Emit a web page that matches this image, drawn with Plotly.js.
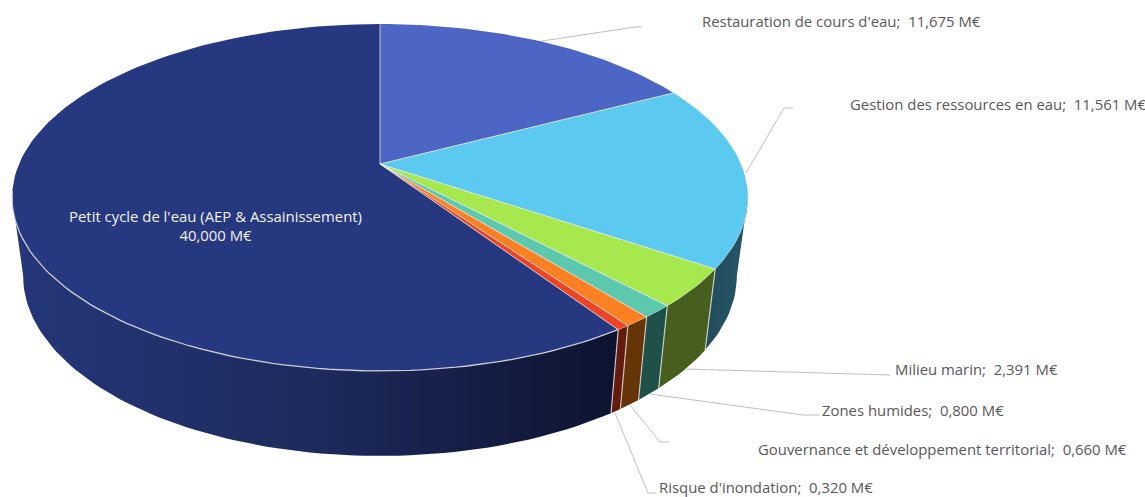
<!DOCTYPE html>
<html><head><meta charset="utf-8">
<script src="https://cdn.plot.ly/plotly-3.0.1.min.js"></script>
<style>html,body{margin:0;padding:0;background:#fff;overflow:hidden}#c{width:1145px;height:497px}</style>
</head><body><div id="c"></div>
<script>
// ---- data ----
const categories = ["Restauration de cours d'eau","Gestion des ressources en eau","Milieu marin","Zones humides","Gouvernance et développement territorial","Risque d'inondation","Petit cycle de l'eau (AEP & Assainissement)"];
const values = [11.675,11.561,2.391,0.800,0.660,0.320,40.000];
const unit = "M€";
const topColors = ["#4D65C4","#5BC9F0","#A8E84F","#5CC9AF","#FD8023","#EF4423","#26387F"];
const wallColors = [
  ["#234F60","#234F60"],["#224C5C","#265567"],["#465E1E","#465E1E"],["#205148","#205148"],
  ["#653407","#653407"],["#621B0D","#621B0D"],["#25377A","#1D2A5C","#0D1330"]];
// ---- projected-disc geometry (layout) ----
const cx=380, cy=164, A=361, B=167, k=0.193;
const bScale=0.97, bCy=241, bB=173.5;
const labelFont="Open Sans", labelSize=14.9, labelColor="#595959";
const leaders=[
  [[542,41],[635,27],[642,27]],
  [[746,173],[784,108],[793,108]],
  [[685,369],[890,375]],
  [[650,394],[803,415],[820,415]],
  [[630,405],[660,442],[669,442]],
  [[615,413],[648,493],[656,493]]];
const labelPos=[[700,21],[848,104],[893,369],[820,410],[756,449],[657,486.5]];
const bigLabel=[215.5,225.5];

const rad=d=>d*Math.PI/180;
function topPt(t){const u=Math.sin(rad(t)),v=Math.cos(rad(t)),w=1+k*v;return [cx+A*u/w,cy-B*v/w];}
function botPt(t){const u=Math.sin(rad(t)),v=Math.cos(rad(t)),w=1+k*v;return [cx+bScale*A*u/w,bCy-bB*v/w];}
function arc(f,a,b){const n=Math.max(2,Math.ceil(Math.abs(b-a)/1.5));const o=[];for(let i=0;i<=n;i++)o.push(f(a+(b-a)*i/n));return o;}

const total=values.reduce((a,b)=>a+b,0);
let cum=0;const starts=[],ends=[];
values.forEach(v=>{starts.push(cum/total*360);cum+=v;ends.push(cum/total*360);});

const traces=[];
const poly=(pts,extra)=>Object.assign({type:'scatter',mode:'lines',x:pts.map(p=>p[0]),y:pts.map(p=>p[1]),hoverinfo:'skip',showlegend:false,line:{width:0}},extra);
const visA=101, visB=259;
// walls
values.forEach((v,i)=>{
  const a=Math.max(starts[i],visA), b=Math.min(ends[i],visB);
  if(b<=a) return;
  const pts=arc(topPt,a,b).concat(arc(botPt,b,a));
  pts.push(pts[0]);
  const cols=wallColors[i];
  traces.push(poly(pts,{fill:'toself',fillgradient:{type:'horizontal',colorscale:cols.map((c,j)=>[j/(cols.length-1),c])},fillcolor:cols[0]}));
});
// wall separators
ends.forEach(e=>{
  if(e>visA&&e<visB){const p=[topPt(e),botPt(e)];traces.push(poly(p,{line:{width:1.2,color:'rgba(225,225,225,0.8)'}}));}
});
// top faces
values.forEach((v,i)=>{
  const pts=[[cx,cy]].concat(arc(topPt,starts[i],ends[i]));pts.push([cx,cy]);
  traces.push(poly(pts,{fill:'toself',fillcolor:topColors[i]}));
});
// radial borders + front rim
starts.forEach(s=>{traces.push(poly([[cx,cy],topPt(s)],{line:{width:1,color:'rgba(235,235,235,0.75)'}}));});
traces.push(poly(arc(topPt,ends[5],visB+2),{line:{width:1.3,color:'rgba(225,225,225,0.85)'}}));
traces.push(poly(arc(topPt,visA,ends[5]),{line:{width:0.8,color:'rgba(225,225,225,0.45)'}}));
// leaders
leaders.forEach(l=>traces.push(poly(l,{line:{width:1,color:'#BFBFBF'}})));

const fmt=v=>v.toFixed(3).replace('.',',');
const annotations=labelPos.map((p,i)=>({xref:'x',yref:'y',x:p[0],y:p[1],xanchor:'left',yanchor:'middle',showarrow:false,
  text:categories[i]+';  '+fmt(values[i])+' '+unit,font:{family:labelFont,size:labelSize,color:labelColor}}));
annotations.push({xref:'x',yref:'y',x:bigLabel[0],y:bigLabel[1],xanchor:'center',yanchor:'middle',showarrow:false,align:'center',
  text:categories[6]+'<br>'+fmt(values[6])+' '+unit,font:{family:labelFont,size:labelSize,color:'#F2F2F2'}});

Plotly.newPlot('c',traces,{
  width:1145,height:497,margin:{l:0,r:0,t:0,b:0},paper_bgcolor:'#fff',plot_bgcolor:'#fff',showlegend:false,
  xaxis:{range:[0,1145],visible:false,fixedrange:true},
  yaxis:{range:[497,0],visible:false,fixedrange:true},
  annotations:annotations
},{displayModeBar:false,staticPlot:true});
</script></body></html>
